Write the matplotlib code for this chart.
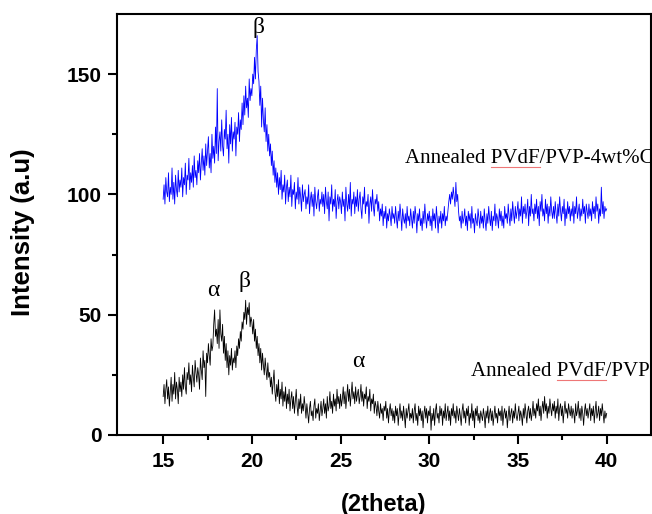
import numpy as np
import matplotlib.pyplot as plt

# 2theta grid, 15.00 .. 40.00 in steps of 0.05
two_theta = np.arange(300, 801) / 20.0

# Annealed PVdF/PVP-4wt%C (blue, upper trace), one row per degree
intensity_4wt = [
    98, 104, 96, 107, 101, 99, 109, 97, 103, 100, 111, 98, 105, 96, 108, 102, 99, 110, 101, 106,           # 15
    103, 111, 99, 107, 104, 113, 100, 108, 106, 115, 102, 109, 105, 112, 103, 116, 107, 110, 104, 114,     # 16
    109, 117, 106, 113, 119, 110, 116, 108, 121, 112, 118, 124, 111, 117, 109, 125, 115, 120, 113, 128,    # 17
    117, 144, 114, 122, 126, 118, 131, 120, 116, 127, 123, 135, 119, 125, 113, 129, 121, 132, 118, 126,    # 18
    123, 130, 116, 128, 125, 134, 122, 131, 127, 138, 129, 141, 133, 145, 136, 140, 132, 148, 139, 144,    # 19
    141, 150, 146, 157, 148, 160, 166, 151, 147, 137, 145, 128, 140, 131, 126, 136, 122, 129, 118, 125,    # 20
    116, 121, 112, 118, 108, 114, 105, 111, 103, 109, 100, 107, 102, 110, 98, 104, 101, 108, 96, 103,      # 21
    106, 97, 103, 99, 108, 95, 102, 100, 105, 94, 101, 98, 107, 96, 103, 99, 93, 104, 97, 100,             # 22
    102, 94, 99, 96, 104, 92, 98, 101, 95, 100, 91, 103, 97, 94, 99, 102, 93, 98, 96, 101,                 # 23
    95, 100, 92, 103, 97, 94, 101, 89, 99, 96, 104, 93, 98, 95, 102, 90, 97, 100, 94, 99,                  # 24
    97, 92, 101, 95, 98, 89, 103, 96, 93, 100, 94, 105, 91, 98, 96, 101, 92, 99, 95, 102,                  # 25
    93, 98, 101, 94, 90, 99, 96, 103, 92, 97, 95, 100, 88, 96, 99, 93, 102, 95, 91, 98,                    # 26
    96, 100, 93, 97, 89, 94, 91, 96, 87, 93, 90, 95, 86, 92, 89, 94, 91, 87, 95, 90,                       # 27
    92, 88, 95, 90, 86, 93, 89, 96, 91, 85, 94, 90, 88, 92, 86, 95, 89, 91, 87, 94,                        # 28
    90, 86, 93, 88, 95, 91, 84, 92, 89, 94, 87, 90, 85, 93, 88, 96, 90, 86, 92, 89,                        # 29
    93, 87, 91, 85, 94, 89, 92, 86, 95, 90, 84, 91, 88, 93, 86, 92, 89, 95, 87, 91,                        # 30
    89, 93, 97, 100, 96, 101, 98, 103, 99, 95, 105, 97, 100, 93, 89, 91, 86, 93, 88, 90,                   # 31
    94, 87, 91, 85, 93, 89, 92, 86, 95, 88, 90, 84, 92, 89, 87, 94, 90, 86, 93, 88,                        # 32
    91, 86, 94, 89, 85, 92, 88, 95, 90, 87, 93, 85, 91, 89, 96, 87, 92, 90, 86, 94,                        # 33
    89, 93, 87, 91, 86, 95, 90, 92, 88, 96, 91, 87, 94, 89, 97, 92, 88, 95, 90, 93,                        # 34
    97, 89, 94, 91, 99, 88, 95, 92, 96, 90, 93, 98, 87, 95, 91, 100, 92, 94, 89, 96,                       # 35
    92, 98, 90, 95, 87, 97, 93, 100, 91, 94, 89, 98, 92, 96, 88, 95, 91, 99, 93, 90,                       # 36
    95, 90, 97, 92, 88, 96, 91, 99, 93, 89, 95, 92, 98, 87, 94, 90, 97, 92, 95, 89,                        # 37
    94, 91, 97, 88, 95, 92, 99, 90, 93, 96, 89, 94, 91, 98, 92, 95, 88, 96, 93, 90,                        # 38
    96, 91, 94, 89, 97, 92, 95, 90, 99, 93, 96, 88, 94, 91, 103, 92, 97, 90, 95, 93,                       # 39
    94,
]

# Annealed PVdF/PVP (black, lower trace), one row per degree
intensity_pvp = [
    16, 21, 13, 19, 23, 15, 20, 12, 18, 24, 14, 21, 17, 26, 15, 22, 19, 13, 24, 18,    # 15
    22, 16, 25, 19, 28, 20, 17, 26, 23, 30, 21, 25, 18, 29, 24, 20, 31, 26, 22, 28,    # 16
    25, 19, 32, 27, 23, 35, 28, 31, 16, 34, 30, 38, 33, 29, 40, 35, 37, 46, 52, 41,    # 17
    44, 38, 48, 36, 52, 42, 39, 46, 34, 41, 31, 38, 28, 35, 25, 33, 29, 36, 27, 32,    # 18
    30, 35, 28, 37, 33, 40, 36, 43, 39, 47, 44, 51, 48, 56, 46, 53, 50, 55, 45, 49,    # 19
    47, 42, 48, 39, 44, 36, 41, 33, 38, 30, 36, 27, 34, 29, 25, 32, 27, 23, 30, 24,    # 20
    26, 20, 24, 17, 22, 27, 18, 14, 21, 16, 23, 13, 19, 15, 22, 12, 18, 14, 20, 11,    # 21
    17, 13, 19, 10, 15, 18, 11, 16, 9, 14, 19, 12, 8, 15, 11, 17, 9, 13, 10, 16,       # 22
    12, 7, 13, 9, 5, 11, 14, 8, 10, 6, 12, 15, 7, 11, 9, 13, 6, 10, 14, 8,             # 23
    11, 15, 9, 13, 7, 16, 10, 12, 18, 11, 14, 9, 17, 12, 15, 10, 19, 13, 16, 11,       # 24
    17, 12, 15, 20, 13, 18, 11, 16, 21, 14, 19, 12, 17, 22, 15, 18, 13, 20, 14, 17,    # 25
    19, 13, 16, 21, 14, 18, 12, 17, 15, 20, 11, 16, 14, 19, 10, 15, 13, 17, 9, 14,     # 26
    12, 8, 14, 10, 7, 13, 9, 11, 6, 12, 10, 14, 7, 11, 5, 10, 13, 8, 11, 6,            # 27
    10, 5, 12, 8, 11, 4, 9, 13, 7, 10, 6, 12, 8, 3, 11, 7, 10, 13, 6, 9,               # 28
    7, 11, 5, 10, 13, 6, 9, 4, 12, 8, 11, 6, 10, 3, 9, 12, 7, 11, 5, 10,               # 29
    8, 12, 2, 9, 6, 11, 4, 10, 13, 7, 9, 5, 12, 8, 11, 4, 10, 7, 13, 6,                # 30
    9, 12, 6, 10, 4, 11, 8, 13, 7, 10, 5, 12, 9, 6, 11, 8, 4, 10, 13, 7,               # 31
    10, 5, 11, 8, 12, 4, 9, 7, 13, 6, 10, 3, 11, 8, 12, 6, 9, 5, 10, 8,                # 32
    6, 11, 8, 3, 10, 7, 12, 5, 9, 11, 6, 10, 4, 8, 12, 7, 9, 5, 11, 8,                 # 33
    10, 6, 12, 4, 9, 11, 7, 10, 3, 8, 12, 6, 9, 11, 5, 10, 7, 13, 8, 6,                # 34
    9, 12, 6, 10, 8, 4, 11, 7, 13, 9, 5, 10, 12, 7, 11, 6, 9, 14, 8, 11,               # 35
    7, 13, 10, 15, 8, 12, 6, 11, 14, 9, 16, 10, 13, 7, 12, 9, 15, 11, 8, 13,           # 36
    10, 14, 7, 12, 9, 15, 6, 11, 13, 8, 12, 5, 10, 14, 9, 11, 7, 13, 10, 8,            # 37
    12, 7, 11, 9, 5, 13, 8, 10, 14, 7, 11, 6, 12, 9, 4, 10, 13, 8, 11, 7,              # 38
    10, 13, 6, 11, 8, 12, 5, 10, 14, 7, 9, 12, 6, 11, 8, 13, 9, 5, 10, 7,              # 39
    9,
]

# peak markers (symbol, 2theta, intensity)
peak_labels = [
    ('\u03b2', 20.35, 167),
    ('\u03b1', 17.8, 57.7),
    ('\u03b2', 19.6, 61.4),
    ('\u03b1', 26.0, 28.2),
]

plt.rcParams['font.family'] = ['Liberation Sans', 'DejaVu Sans']

fig = plt.figure(figsize=(6.52, 5.14), dpi=100)
ax = fig.add_axes([0.1795, 0.1537, 0.819, 0.8191])

ax.plot(two_theta, intensity_4wt, color='#0000ff', lw=0.6)
ax.plot(two_theta, intensity_pvp, color='#000000', lw=0.6)

ax.set_xlim(12.4, 42.5)
ax.set_ylim(0, 175)
ax.set_xticks([15, 20, 25, 30, 35, 40])
ax.set_xticks([17.5, 22.5, 27.5, 32.5, 37.5], minor=True)
ax.set_yticks([0, 50, 100, 150])
ax.set_yticks([25, 75, 125], minor=True)
ax.tick_params(which='both', direction='out', top=False, right=False, width=1.5)
ax.tick_params(which='major', length=6.5, labelsize=15)
ax.tick_params(axis='x', which='major', pad=5.5)
ax.tick_params(axis='y', which='major', pad=4.5)
ax.tick_params(which='minor', length=3.5)
for lab in ax.get_xticklabels() + ax.get_yticklabels():
    lab.set_fontweight('bold')
for sp in ax.spines.values():
    sp.set_linewidth(1.5)

ax.set_ylabel('Intensity (a.u)', fontsize=18.5, fontweight='bold', va='center')
ax.yaxis.set_label_coords(-0.176, 0.481)
ax.set_xlabel('(2theta)', fontsize=17, fontweight='bold', va='center')
ax.xaxis.set_label_coords(0.5, -0.164)

serif = {'family': ['Liberation Serif', 'DejaVu Serif']}
for sym, xx, yy in peak_labels:
    ax.text(xx, yy, sym, fontsize=17, ha='center', va='baseline', fontdict=serif)

t1 = ax.text(28.63, 112.9, 'Annealed PVdF/PVP-4wt%C', fontsize=15, ha='left',
             va='baseline', fontdict=serif, clip_on=False)
t2 = ax.text(32.38, 24.5, 'Annealed PVdF/PVP', fontsize=15, ha='left',
             va='baseline', fontdict=serif, clip_on=False)

# red spell-check underline beneath "PVdF"
fig.canvas.draw()
rend = fig.canvas.get_renderer()
W, H = fig.bbox.width, fig.bbox.height
for t in (t1, t2):
    prop = t.get_fontproperties()
    w0 = rend.get_text_width_height_descent('Annealed ', prop, ismath=False)[0]
    w1 = rend.get_text_width_height_descent('Annealed PVdF', prop, ismath=False)[0]
    bb = t.get_window_extent(rend)
    yb = ax.transData.transform((0, t.get_position()[1]))[1] - 4
    fig.add_artist(plt.Line2D([(bb.x0 + w0) / W, (bb.x0 + w1) / W], [yb / H, yb / H],
                              color='#ee7777', lw=0.8, transform=fig.transFigure))

fig.savefig('out.png', dpi=100)
